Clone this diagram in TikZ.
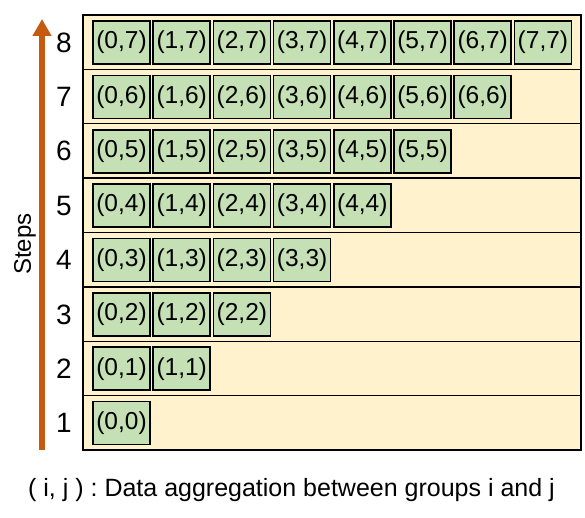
\documentclass[tikz,border=0pt]{standalone}
\usepackage{fontspec}
\setmainfont{Liberation Sans}
\frenchspacing
\usetikzlibrary{arrows.meta}
\definecolor{rowfill}{HTML}{FFF2CC}
\definecolor{cellfill}{HTML}{C5E0B4}
\definecolor{arrowcol}{HTML}{C55A11}
\tikzset{
  rowbox/.style={draw=black, line width=1.5pt, fill=rowfill},
  cellbox/.style={draw=black, line width=1.6pt, fill=cellfill, minimum width=57pt, minimum height=43pt, inner sep=0pt, font=\fontsize{24.5}{26}\selectfont},
  steplabel/.style={font=\fontsize{28}{30}\selectfont, inner sep=0pt},
  stepsarrow/.style={draw=arrowcol, line width=6pt, -{Triangle[width=18pt,length=17pt]}},
}
\begin{document}
\begin{tikzpicture}[x=1pt,y=-1pt]
\useasboundingbox (0,0) rectangle (585,518);
% rows
\foreach \s in {1,...,8}{
  \pgfmathsetmacro{\top}{15+(8-\s)*54.375}
  \pgfmathsetmacro{\bot}{\top+54.375}
  \path[rowbox] (83,\top) rectangle (581,\bot);
  \node[steplabel] (s\s) at (64,{\top+27.5}) {\s};
}
% cells
\foreach \s in {1,...,8}{
  \pgfmathtruncatemacro{\j}{\s-1}
  \pgfmathsetmacro{\cy}{15+(8-\s)*54.375+27.5}
  \foreach \i in {0,...,\j}{
    \node[cellbox] (c\i\j) at ({121.5+\i*60.2},\cy) {(\i,\j)};
  }
}
\coordinate (abot) at (42,450);
\coordinate (atop) at (42,19);
\draw[stepsarrow] (abot) -- (atop);
\node[rotate=90, font=\fontsize{24}{26}\selectfont, inner sep=0pt] (steps) at (25,244) {Steps};
\node[font=\fontsize{25}{27}\selectfont, inner sep=0pt] (caption) at (291.5,490) {( i, j ) : Data aggregation between groups i and j};
\end{tikzpicture}
\end{document}
